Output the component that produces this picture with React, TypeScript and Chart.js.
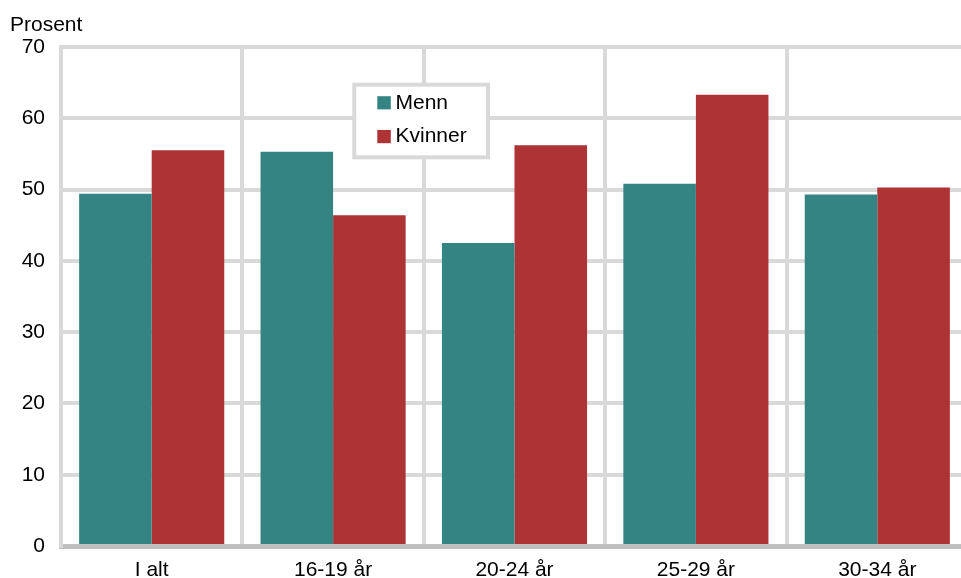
import React, { useEffect, useRef } from "react";
import { Chart, registerables } from "chart.js";

Chart.register(...registerables);

const categories = ["I alt", "16-19 år", "20-24 år", "25-29 år", "30-34 år"];
const menn = [49.4, 55.3, 42.5, 50.8, 49.3];
const kvinner = [55.5, 46.4, 56.2, 63.3, 50.3];
const seriesLabels = ["Menn", "Kvinner"];
const yTicks = [0, 10, 20, 30, 40, 50, 60, 70];
const yTitle = "Prosent";

const TEAL = "#358484";
const RED = "#AD3335";
const GRID = "#d9d9d9";
const AXIS = "#bfbfbf";
const FONT = "'Liberation Sans', Arial, sans-serif";

const W = 980;
const H = 578;

const overlayPlugin = {
  id: "overlay",
  afterDatasetsDraw(chart: any) {
    const ctx = chart.ctx;
    ctx.save();
    // y title
    ctx.fillStyle = "#000";
    ctx.font = `21px ${FONT}`;
    ctx.textAlign = "left";
    ctx.textBaseline = "alphabetic";
    ctx.fillText(yTitle, 10, 31);
    // legend box
    const bx = 354.3, by = 84.7, bw = 133.7, bh = 72.6;
    ctx.fillStyle = "#fff";
    ctx.fillRect(bx, by, bw, bh);
    ctx.strokeStyle = GRID;
    ctx.lineWidth = 4;
    ctx.strokeRect(bx, by, bw, bh);
    const rows = [102.8, 136.6];
    chart.data.datasets.forEach((ds: any, i: number) => {
      const cy = rows[i];
      ctx.fillStyle = ds.backgroundColor;
      ctx.fillRect(377.3, cy - 6.6, 13.5, 13.2);
      ctx.fillStyle = "#000";
      ctx.font = `21px ${FONT}`;
      ctx.textAlign = "left";
      ctx.textBaseline = "middle";
      ctx.fillText(ds.label, 395.5, cy);
    });
    ctx.restore();
  },
};

export default function App() {
  const ref = useRef<HTMLCanvasElement | null>(null);
  useEffect(() => {
    if (!ref.current) return;
    const chart = new Chart(ref.current, {
      type: "bar",
      data: {
        labels: categories,
        datasets: [
          { label: seriesLabels[0], data: menn, backgroundColor: TEAL, borderWidth: 0 },
          { label: seriesLabels[1], data: kvinner, backgroundColor: RED, borderWidth: 0 },
        ],
      },
      options: {
        responsive: false,
        animation: false,
        devicePixelRatio: 1,
        layout: { padding: { top: 47, right: W - 968, left: 0, bottom: 0 } },
        datasets: { bar: { categoryPercentage: 0.8, barPercentage: 1.0 } },
        plugins: {
          legend: { display: false },
          tooltip: { enabled: false },
          title: { display: false },
        },
        scales: {
          x: {
            offset: true,
            grid: { color: GRID, lineWidth: 4, offset: true, drawTicks: false },
            border: { color: AXIS, width: 5 },
            ticks: { color: "#000", font: { family: FONT, size: 21 }, padding: 12, maxRotation: 0 },
            afterFit: (s: any) => { s.height = H - 546; },
          },
          y: {
            min: 0,
            max: 70,
            afterBuildTicks: (s: any) => { s.ticks = yTicks.map((v) => ({ value: v })); },
            grid: {
              color: (c: any) => (c.tick && c.tick.value === 0 ? "rgba(0,0,0,0)" : GRID),
              lineWidth: 4,
              drawTicks: false,
            },
            border: { color: GRID, width: 4 },
            ticks: { color: "#000", font: { family: FONT, size: 21 }, padding: 16 },
            afterFit: (s: any) => { s.width = 61; },
          },
        },
      },
      plugins: [overlayPlugin],
    });
    return () => chart.destroy();
  }, []);
  return (
    <div style={{ position: "fixed", left: 0, top: 0, width: 961, height: 578, overflow: "hidden", background: "#fff" }}>
      <canvas ref={ref} width={W} height={H} style={{ display: "block", width: W, height: H }} />
    </div>
  );
}
